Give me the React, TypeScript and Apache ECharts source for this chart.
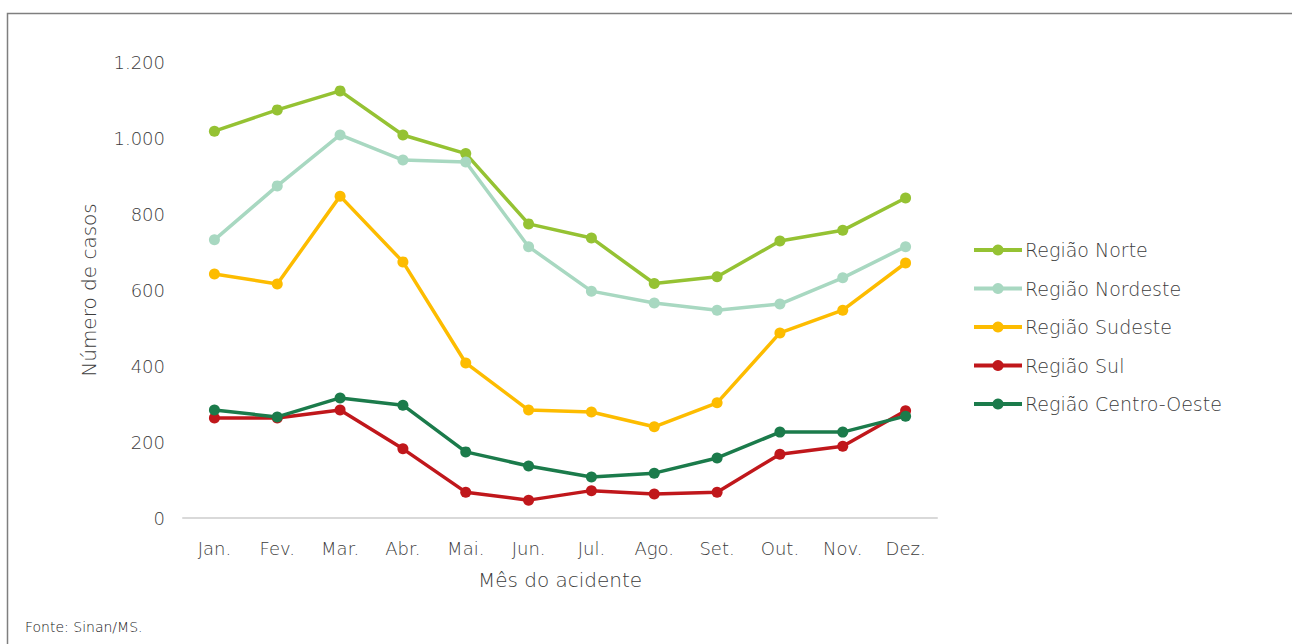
import React, { useEffect, useRef } from "react";
import * as echarts from "echarts";

const months = ["Jan.", "Fev.", "Mar.", "Abr.", "Mai.", "Jun.", "Jul.", "Ago.", "Set.", "Out.", "Nov.", "Dez."];
const norte = [1018, 1074, 1124, 1008, 959, 774, 737, 617, 635, 729, 757, 842];
const nordeste = [732, 874, 1008, 942, 937, 714, 597, 566, 547, 563, 632, 714];
const sudeste = [642, 616, 847, 674, 408, 284, 279, 240, 303, 487, 547, 671];
const sul = [263, 263, 284, 182, 68, 47, 72, 63, 68, 168, 189, 282];
const centroOeste = [284, 266, 316, 297, 174, 137, 108, 118, 158, 226, 226, 268];
const yTicks = { min: 0, max: 1200, interval: 200 };

const seriesDefs = [
  { name: "Região Norte", data: norte, color: "#95C233" },
  { name: "Região Nordeste", data: nordeste, color: "#A8D8C1" },
  { name: "Região Sudeste", data: sudeste, color: "#FDBC00" },
  { name: "Região Sul", data: sul, color: "#C0171B" },
  { name: "Região Centro-Oeste", data: centroOeste, color: "#1B7B4B" },
];

const FONT = "'DejaVu Sans', 'Open Sans', sans-serif";
const TXT = "#3c3c3c";
const W = 200;

export default function App() {
  const ref = useRef<HTMLDivElement>(null);
  useEffect(() => {
    if (!ref.current) return;
    const chart = echarts.init(ref.current, null, { renderer: "svg" });
    chart.setOption({
      animation: false,
      backgroundColor: "#ffffff",
      textStyle: { fontFamily: FONT, color: TXT, fontWeight: W },
      grid: { left: 183, right: 355, top: 62, bottom: 126, containLabel: false },
      legend: {
        orient: "vertical",
        left: 972,
        top: 240,
        padding: 0,
        itemWidth: 48,
        itemHeight: 14,
        itemGap: 18.5,
        textStyle: { fontFamily: FONT, fontSize: 19, color: TXT, lineHeight: 20, fontWeight: W, padding: [0, 0, 0, -2] },
        lineStyle: { width: 4 },
        data: seriesDefs.map((s) => s.name),
      },
      xAxis: {
        type: "category",
        data: months,
        boundaryGap: true,
        axisLine: { show: true, lineStyle: { color: "#d9d9d9", width: 2 } },
        axisTick: { show: false },
        axisLabel: { fontSize: 18, color: TXT, margin: 21, fontFamily: FONT, fontWeight: W },
        name: "Mês do acidente",
        nameLocation: "middle",
        nameGap: 52,
        nameTextStyle: { fontSize: 20, color: TXT, fontFamily: FONT, fontWeight: W },
      },
      yAxis: {
        type: "value",
        min: yTicks.min,
        max: yTicks.max,
        interval: yTicks.interval,
        axisLine: { show: false },
        axisTick: { show: false },
        splitLine: { show: false },
        axisLabel: {
          fontSize: 18,
          color: TXT,
          margin: 18,
          fontFamily: FONT,
          fontWeight: W,
          formatter: (v: number) => String(v).replace(/\B(?=(\d{3})+(?!\d))/g, "."),
        },
        name: "Número de casos",
        nameLocation: "middle",
        nameGap: 84,
        nameRotate: 90,
        nameTextStyle: { fontSize: 20, color: TXT, fontFamily: FONT, fontWeight: W },
      },
      series: seriesDefs.map((s) => ({
        name: s.name,
        type: "line",
        data: s.data,
        symbol: "circle",
        symbolSize: 11,
        color: s.color,
        itemStyle: { color: s.color },
        lineStyle: { color: s.color, width: 3.5 },
      })),
      graphic: [
        {
          type: "rect",
          shape: { x: 7.5, y: 13.5, width: 1300, height: 700 },
          style: { fill: "none", stroke: "#7f7f7f", lineWidth: 1.5 },
          silent: true,
        },
        {
          type: "text",
          left: 25,
          top: 620,
          style: { text: "Fonte: Sinan/MS.", fontSize: 14, fill: "#202020", fontFamily: FONT, fontWeight: W },
        },
      ],
    });
    return () => chart.dispose();
  }, []);
  return <div ref={ref} style={{ position: "fixed", left: 0, top: 0, width: 1292, height: 644 }} />;
}
